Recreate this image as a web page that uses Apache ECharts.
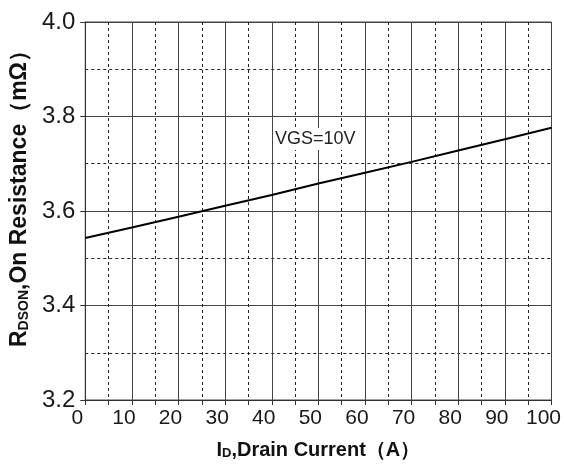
<!DOCTYPE html>
<html>
<head>
<meta charset="utf-8">
<title>RDSON vs ID</title>
<script src="https://cdn.jsdelivr.net/npm/echarts@6/dist/echarts.min.js"></script>
<style>
  html, body { margin: 0; padding: 0; background: #fff; }
  #chart { width: 564px; height: 467px; }
</style>
</head>
<body>
<div id="chart"></div>
<script>
  // drain current (A)
  var currents = [0, 10, 20, 30, 40, 50, 60, 70, 80, 90, 100];
  // on resistance (mOhm) at VGS=10V
  var rdson = [3.543, 3.565, 3.588, 3.611, 3.634, 3.658, 3.681, 3.704, 3.728, 3.752, 3.776];
  var curveLabel = 'VGS=10V';

  var chart = echarts.init(document.getElementById('chart'));
  var font = 'Arial, "Liberation Sans", sans-serif';

  chart.setOption({
    animation: false,
    backgroundColor: '#fff',
    grid: {
      left: 84, right: 10, top: 22, bottom: 67,
      show: true, borderColor: '#444', borderWidth: 1
    },
    xAxis: {
      type: 'value',
      min: 0, max: 100, interval: 10,
      name: '{b|I}{s|D}{b|,Drain Current（A）}',
      nameLocation: 'middle',
      nameGap: 40,
      nameTextStyle: {
        rich: {
          b: { fontFamily: font, fontWeight: 'bold', fontSize: 20, color: '#111' },
          s: { fontFamily: font, fontWeight: 'bold', fontSize: 13, color: '#111', verticalAlign: 'bottom', padding: [6, 0, 0, 0] }
        }
      },
      axisLine: { show: true, lineStyle: { color: '#333', width: 1 } },
      axisTick: { show: true, length: 5, lineStyle: { color: '#333' } },
      minorTick: { show: true, splitNumber: 2, length: 5, lineStyle: { color: '#333' } },
      axisLabel: {
        fontFamily: font, fontSize: 21, color: '#1a1a1a', margin: 8,
        padding: [0, 16, 0, 0]
      },
      splitLine: { show: true, lineStyle: { color: '#444', width: 1 } },
      minorSplitLine: { show: true, lineStyle: { color: '#222', width: 1, type: [3, 3] } }
    },
    yAxis: {
      type: 'value',
      min: 3.2, max: 4.0, interval: 0.2,
      name: '{b|R}{s|DSON}{b|,On Resistance（mΩ）}',
      nameLocation: 'middle',
      nameRotate: 90,
      nameGap: 50,
      nameTextStyle: {
        padding: [0, 0, 0, 36],
        rich: {
          b: { fontFamily: font, fontWeight: 'bold', fontSize: 23, color: '#111' },
          s: { fontFamily: font, fontWeight: 'bold', fontSize: 14, color: '#111', verticalAlign: 'bottom', padding: [6, 0, 0, 0] }
        }
      },
      axisLine: { show: true, lineStyle: { color: '#333', width: 1 } },
      axisTick: { show: true, length: 5, lineStyle: { color: '#333' } },
      axisLabel: {
        fontFamily: font, fontSize: 24, color: '#1a1a1a', margin: 10,
        formatter: function (v) { return v.toFixed(1); }
      },
      splitLine: { show: true, lineStyle: { color: '#444', width: 1 } },
      minorTick: { show: false, splitNumber: 2 },
      minorSplitLine: { show: true, lineStyle: { color: '#222', width: 1, type: [3, 3] } }
    },
    graphic: [{
      type: 'text',
      left: 273, top: 128,
      z: 100,
      style: {
        text: curveLabel, fontFamily: font, fontSize: 18, fill: '#222',
        backgroundColor: '#fff', padding: [2, 2, 2, 2]
      }
    }],
    series: [{
      type: 'line',
      data: currents.map(function (x, i) { return [x, rdson[i]]; }),
      showSymbol: false,
      lineStyle: { color: '#000', width: 2 }
    }]
  });
</script>
</body>
</html>
